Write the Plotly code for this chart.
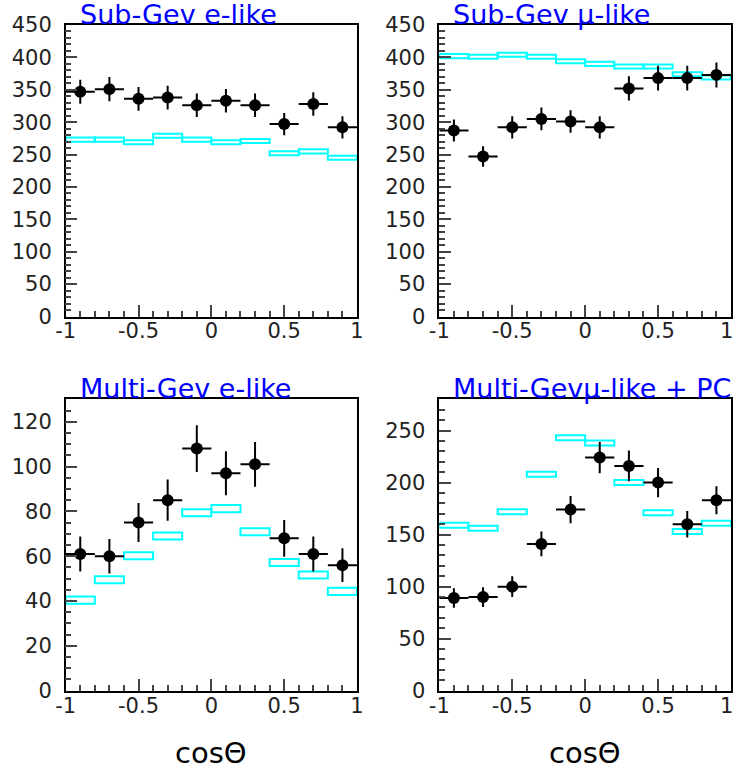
import plotly.graph_objects as go

# ---- data ----
cos_centers = [-0.9, -0.7, -0.5, -0.3, -0.1, 0.1, 0.3, 0.5, 0.7, 0.9]
bin_half_width = 0.1

titles = ["Sub-Gev e-like", "Sub-Gev \u03bc-like", "Multi-Gev e-like", "Multi-Gev\u03bc-like + PC"]

subgev_e_data = [347, 351, 336, 338, 326, 333, 326, 297, 328, 292]
subgev_e_err = [18.6, 18.7, 18.3, 18.4, 18.1, 18.2, 18.1, 17.2, 18.1, 17.1]
subgev_e_mc = [273, 273, 269, 279, 273, 269, 271, 252, 255, 245]
subgev_e_mc_err = [3.2, 3.2, 3.2, 3.2, 3.2, 3.2, 3.2, 3.2, 3.2, 3.2]

subgev_mu_data = [287, 247, 292, 305, 301, 292, 352, 368, 368, 373]
subgev_mu_err = [17.0, 15.7, 17.1, 17.5, 17.3, 17.1, 18.7, 19.2, 19.2, 19.3]
subgev_mu_mc = [402, 401, 404, 401, 394, 390, 386, 386, 374, 369]
subgev_mu_mc_err = [3.2, 3.2, 3.2, 3.2, 3.2, 3.2, 3.2, 3.2, 3.2, 3.2]

multigev_e_data = [61, 60, 75, 85, 108, 97, 101, 68, 61, 56]
multigev_e_err = [7.8, 7.7, 8.7, 9.2, 10.4, 9.8, 10.0, 8.2, 7.8, 7.5]
multigev_e_mc = [40.4, 49.5, 60.2, 69.0, 79.4, 81.2, 70.9, 57.2, 51.6, 44.3]
multigev_e_mc_err = [1.6, 1.6, 1.6, 1.6, 1.6, 1.6, 1.6, 1.6, 1.6, 1.6]

multigev_mu_data = [89, 90, 100, 141, 174, 224, 216, 200, 160, 183]
multigev_mu_err = [9.4, 9.5, 10.0, 11.9, 13.2, 15.0, 14.7, 14.1, 12.7, 13.5]
multigev_mu_mc = [159, 156, 172, 208, 243, 238, 200, 171, 153, 161]
multigev_mu_mc_err = [2.4, 2.4, 2.4, 2.4, 2.4, 2.4, 2.4, 2.4, 2.4, 2.4]

x_tickvals = [-1, -0.5, 0, 0.5, 1]
x_ticktext = ["-1", "-0.5", "0", "0.5", "1"]

panels = [
    (subgev_e_data, subgev_e_err, subgev_e_mc, subgev_e_mc_err, 450, 50, 10),
    (subgev_mu_data, subgev_mu_err, subgev_mu_mc, subgev_mu_mc_err, 450, 50, 10),
    (multigev_e_data, multigev_e_err, multigev_e_mc, multigev_e_mc_err, 130, 20, 5),
    (multigev_mu_data, multigev_mu_err, multigev_mu_mc, multigev_mu_mc_err, 280, 50, 10),
]

W, H = 736, 769
xdoms = [(65.7 / W, 357.0 / W), (439.3 / W, 731.0 / W)]
ydoms = [((H - 316.5) / H, (H - 25.0) / H), ((H - 690.7) / H, (H - 399.3) / H)]

fig = go.Figure()
FONT = "DejaVu Sans"
TICKFONT = dict(family=FONT, size=21, color="#222")

for i, (data, err, mc, mcerr, ymax, ydt, yminor) in enumerate(panels):
    n = i + 1
    xa = "x" if n == 1 else f"x{n}"
    ya = "y" if n == 1 else f"y{n}"
    col = i % 2
    row = i // 2
    fig.add_trace(go.Bar(
        x=cos_centers,
        y=[2 * e for e in mcerr],
        base=[m - e for m, e in zip(mc, mcerr)],
        width=2 * bin_half_width,
        marker=dict(color="rgba(0,0,0,0)", line=dict(color="#00ffff", width=2)),
        xaxis=xa, yaxis=ya, showlegend=False, hoverinfo="skip",
    ))
    fig.add_trace(go.Scatter(
        x=cos_centers, y=data, mode="markers",
        marker=dict(color="black", size=12),
        error_y=dict(type="data", array=err, color="black", thickness=2, width=0),
        error_x=dict(type="constant", value=bin_half_width, color="black", thickness=2, width=0),
        xaxis=xa, yaxis=ya, showlegend=False,
    ))
    axis_common = dict(
        showgrid=False, zeroline=False, showline=True, linecolor="black", linewidth=1.5,
        mirror=True, ticks="inside", ticklen=12, tickwidth=1.5, tickcolor="#444",
        tickfont=TICKFONT, automargin=False, ticklabeloverflow="allow",
    )
    # right-column panels: the last label "1" sits at the page edge, drawn separately
    ttext = list(x_ticktext)
    if col == 1:
        ttext[-1] = ""
        fig.add_annotation(
            text=x_ticktext[-1], xref="paper", yref=f"{ya} domain",
            x=1, y=0, xanchor="right", yanchor="middle", yshift=-15, xshift=-1,
            showarrow=False, font=TICKFONT,
        )
    fig.layout[f"xaxis{'' if n == 1 else n}"] = dict(
        domain=list(xdoms[col]), anchor=ya, range=[-1, 1],
        tickvals=x_tickvals, ticktext=ttext, ticklabelstandoff=-5,
        minor=dict(ticks="inside", ticklen=6, dtick=0.1, tick0=-1, tickwidth=1.5, tickcolor="#444"),
        **axis_common,
    )
    fig.layout[f"yaxis{'' if n == 1 else n}"] = dict(
        domain=list(ydoms[row]), anchor=xa, range=[0, ymax],
        tick0=0, dtick=ydt, ticklabelstandoff=8,
        minor=dict(ticks="inside", ticklen=6, dtick=yminor, tick0=0, tickwidth=1.5, tickcolor="#444"),
        **axis_common,
    )
    fig.add_annotation(
        text=titles[i], xref=f"{xa} domain", yref=f"{ya} domain",
        x=0, y=1, xanchor="left", yanchor="bottom", xshift=12, yshift=-7,
        showarrow=False, font=dict(family=FONT, size=27, color="#0000ff"),
    )
    if row == 1:
        fig.add_annotation(
            text="cos\u0398", xref=f"{xa} domain", yref="paper",
            x=0.5, y=(H - 753) / H, xanchor="center", yanchor="middle",
            showarrow=False, font=dict(family=FONT, size=29, color="black"),
        )

fig.update_layout(
    width=W, height=H, margin=dict(l=0, r=0, t=0, b=0, autoexpand=False),
    paper_bgcolor="white", plot_bgcolor="white", barmode="overlay",
)

fig.write_html("out.html")
